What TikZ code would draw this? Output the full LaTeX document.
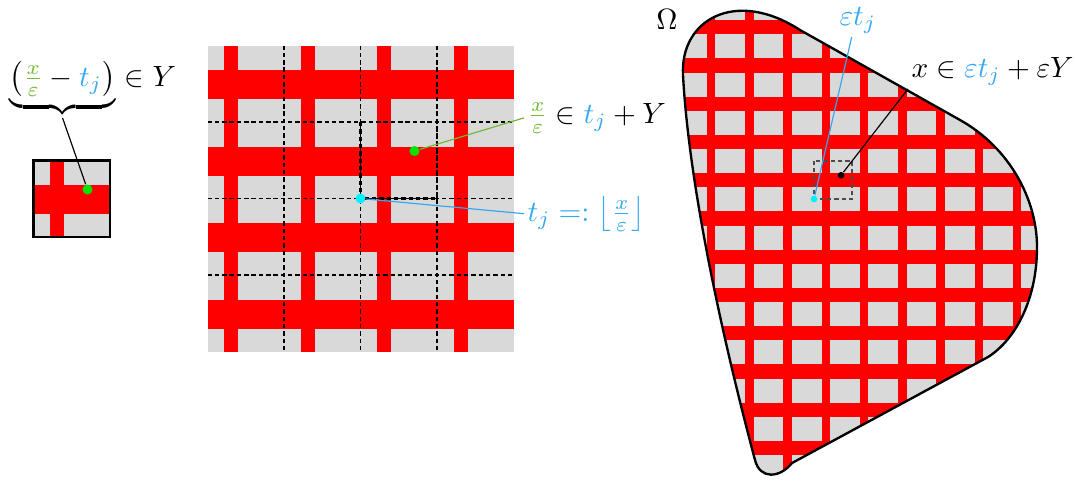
\documentclass[tikz,border=0pt]{standalone}
\usepackage{amsmath}
\usetikzlibrary{positioning}

\definecolor{epsgreen}{rgb}{0.45,0.72,0.2}
\definecolor{tjblue}{rgb}{0.2,0.66,0.95}
\definecolor{dotcyan}{rgb}{0,0.95,1}
\definecolor{dotgreen}{rgb}{0,0.9,0}

\tikzset{
    cellgray/.style={fill=gray!30},
    bar/.style={fill=red},
    griddash/.style={dash pattern=on 1.5pt off 1pt},
    dot/.style={circle,inner sep=0pt,minimum size=#1},
    lbl/.style={inner sep=1pt},
}

% outline of the domain Omega (pixel units, y down)
\newcommand{\Omegashape}{(683,75) .. controls (680,20) and (735,-12) .. (800,30) -- (960,120)
    .. controls (1010,148) and (1037,200) .. (1037,247)
    .. controls (1037,300) and (1015,340) .. (988,357) -- (792,463)
    .. controls (780,478) and (760,480) .. (755,460)
    .. controls (715,310) and (688,170) .. (683,75) -- cycle}

\begin{document}
\begin{tikzpicture}[x=0.012cm,y=-0.012cm]
    \useasboundingbox (0,0) rectangle (1075,480);

    % reference cell Y
    \fill[cellgray] (33.5,160.5) rectangle (110,237);
    \fill[bar] (50,160.5) rectangle (64,237);
    \fill[bar] (33.5,185) rectangle (110,214);
    \draw[thick] (33.5,160.5) rectangle (110,237);
    \node[dot=1.2mm,fill=dotgreen] (gY) at (87.5,189.5) {};

    \node[inner sep=0pt,anchor=base west] (cellY) at (9,86) {$\underbrace{\left(\textcolor{epsgreen}{\tfrac{x}{\varepsilon}}-\textcolor{tjblue}{t_j}\right)}$};
    \node[inner sep=0pt,anchor=base west] (inY) at (cellY.base east) {${}\in Y$};
    \draw (cellY.south) -- (gY);

    % periodic square
    \fill[cellgray] (207.5,45.5) rectangle (513.5,351.5);
    \foreach \i in {0,...,3} {
        \fill[bar] ({224+76.5*\i},45.5) rectangle ({238+76.5*\i},351.5);
        \fill[bar] (207.5,{70+76.5*\i}) rectangle (513.5,{99+76.5*\i});
    }
    \foreach \i in {1,2,3} {
        \draw[thin,griddash] ({207.5+76.5*\i},45.5) -- ++(0,306);
        \draw[thin,griddash] (207.5,{45.5+76.5*\i}) -- ++(306,0);
    }
    \draw[thick,griddash] (360.5,122) rectangle (437,198.5);

    \node[dot=1.2mm,fill=dotgreen] (gM) at (414.5,151) {};
    \node[dot=1.2mm,fill=dotcyan] (cM) at (360.5,198.5) {};

    \node[lbl,anchor=base west] (fracM) at (524,123) {$\textcolor{epsgreen}{\frac{x}{\varepsilon}}\in\textcolor{tjblue}{t_j}+Y$};
    \node[lbl,anchor=base west,text=tjblue] (tjM) at (524,221) {$t_j=:\left\lfloor\frac{x}{\varepsilon}\right\rfloor$};
    \draw[epsgreen] (gM) -- (fracM.west);
    \draw[tjblue] (cM) -- (tjM.west);

    % domain Omega with scaled cells
    \fill[cellgray] \Omegashape;
    \begin{scope}
        \clip \Omegashape;
        \foreach \k in {-4,...,6}
            \fill[bar] ({821.5+38.25*\k},0) rectangle ({830+38.25*\k},480);
        \foreach \m in {-5,...,8}
            \fill[bar] (660,{173+38.25*\m}) rectangle (1075,{187.25+38.25*\m});
    \end{scope}
    \draw[thick] \Omegashape;
    \draw[semithick,black!70,griddash] (814,160.75) rectangle (852.25,199);

    \node[dot=0.8mm,fill=black] (xO) at (841,175.25) {};
    \node[dot=0.8mm,fill=dotcyan] (tO) at (814,199) {};

    \node[lbl] (Om) at (667,19) {$\Omega$};
    \node[lbl,anchor=base west,text=tjblue] (epst) at (836,25) {$\varepsilon t_j$};
    \node[lbl,anchor=base west] (xlbl) at (908,77) {$x\in\textcolor{tjblue}{\varepsilon t_j}+\varepsilon Y$};
    \draw[tjblue] (tO) -- (epst.250);
    \draw (xO) -- (xlbl.south west);

\end{tikzpicture}
\end{document}
